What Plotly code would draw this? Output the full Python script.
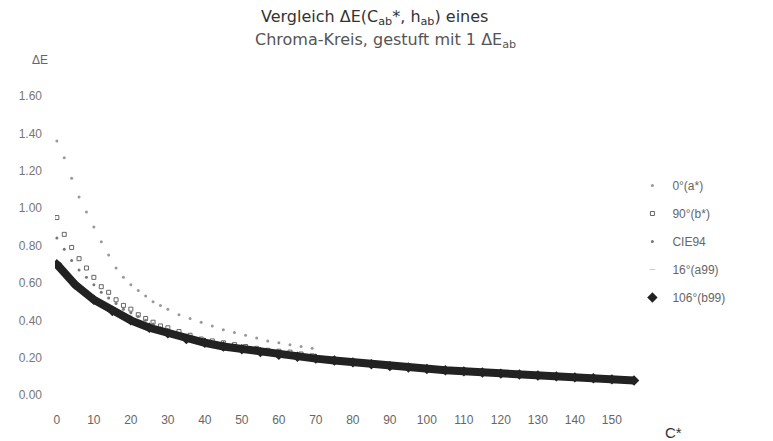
import plotly.graph_objects as go

# Chroma values (C*) and Delta E values
c_black = [0, 5, 10, 15, 20, 25, 30, 35, 40, 45, 50, 55, 60, 65, 70, 75, 80, 85,
           90, 95, 100, 105, 110, 115, 120, 125, 130, 135, 140, 145, 150, 156]
de_b99 = [0.70, 0.59, 0.51, 0.45, 0.40, 0.36, 0.33, 0.30, 0.28, 0.26, 0.245, 0.23,
          0.215, 0.205, 0.195, 0.185, 0.175, 0.165, 0.155, 0.148, 0.14, 0.133,
          0.127, 0.121, 0.115, 0.11, 0.105, 0.10, 0.095, 0.09, 0.084, 0.078]
de_a99 = [0.70, 0.59, 0.51, 0.45, 0.40, 0.36, 0.33, 0.30, 0.28, 0.26, 0.245, 0.23,
          0.215, 0.205, 0.195, 0.185, 0.175, 0.165, 0.155, 0.148, 0.14, 0.133,
          0.127, 0.121, 0.115, 0.11, 0.105, 0.10, 0.095, 0.09, 0.084, 0.078]

c_dots = [0, 2, 4, 6, 8, 10, 12, 14, 16, 18, 20, 22, 24, 26, 28, 30, 33, 36, 39,
          42, 45, 48, 51, 54, 57, 60, 63, 66, 69]
de_a = [1.36, 1.27, 1.16, 1.06, 0.98, 0.90, 0.82, 0.75, 0.68, 0.63, 0.59, 0.56,
        0.53, 0.50, 0.48, 0.46, 0.43, 0.41, 0.39, 0.37, 0.35, 0.335, 0.32, 0.305,
        0.29, 0.28, 0.27, 0.26, 0.25]
de_b = [0.95, 0.86, 0.79, 0.73, 0.68, 0.63, 0.58, 0.55, 0.51, 0.48, 0.46, 0.43,
        0.41, 0.39, 0.37, 0.36, 0.34, 0.32, 0.30, 0.29, 0.28, 0.27, 0.26, 0.25,
        0.24, 0.235, 0.23, 0.22, 0.21]
de_94 = [0.84, 0.78, 0.72, 0.67, 0.63, 0.59, 0.55, 0.52, 0.49, 0.46, 0.44, 0.42,
         0.40, 0.38, 0.36, 0.35, 0.33, 0.31, 0.295, 0.28, 0.27, 0.26, 0.25, 0.24,
         0.23, 0.225, 0.22, 0.21, 0.205]

x_ticks = list(range(0, 151, 10))
y_ticks = [0.0, 0.2, 0.4, 0.6, 0.8, 1.0, 1.2, 1.4, 1.6]

fig = go.Figure()

fig.add_trace(go.Scatter(x=c_dots, y=de_a, mode="markers", name="0°(a*)", legendgroup="g1",
                         marker=dict(size=3, color="#999999")))
fig.add_trace(go.Scatter(x=c_dots, y=de_b, mode="markers", name="90°(b*)", legendgroup="g2",
                         marker=dict(size=4, color="#666666", symbol="square-open")))
fig.add_trace(go.Scatter(x=c_dots, y=de_94, mode="markers", name="CIE94", legendgroup="g3",
                         marker=dict(size=3, color="#777777")))
fig.add_trace(go.Scatter(x=c_black, y=de_a99, mode="markers", name="16°(a99)", legendgroup="g4",
                         marker=dict(size=4, color="#cccccc", symbol="line-ew-open")))
fig.add_trace(go.Scatter(x=c_black, y=de_b99, mode="lines", showlegend=False, legendgroup="g5",
                         line=dict(color="#222222", width=8), hoverinfo="skip"))
fig.add_trace(go.Scatter(x=c_black, y=de_b99, mode="markers", name="106°(b99)", legendgroup="g5",
                         marker=dict(size=8, color="#222222", symbol="diamond")))

fig.update_layout(
    width=773, height=441,
    margin=dict(l=47, r=141, t=72, b=44),
    paper_bgcolor="white", plot_bgcolor="white",
    font=dict(family="Liberation Sans, Arial, sans-serif", color="#666666", size=12),
    xaxis=dict(range=[-0.5, 157.6], tickvals=x_ticks, showgrid=False, zeroline=False,
               showline=False, ticks="", automargin=False, ticklabelstandoff=6,
               tickfont=dict(size=12, color="#666666")),
    yaxis=dict(range=[-0.053, 1.686], tickvals=y_ticks, tickformat=".2f",
               showgrid=False, zeroline=False, showline=False, ticks="",
               automargin=False, ticklabelstandoff=12,
               tickfont=dict(size=12, color="#777777")),
    legend=dict(x=0.987, xanchor="left", y=0.72, yanchor="top",
                font=dict(size=12, color="#666666"), bgcolor="rgba(0,0,0,0)",
                tracegroupgap=9, itemwidth=30),
    annotations=[
        dict(text="Vergleich ΔE(C<sub>ab</sub>*, h<sub>ab</sub>) eines",
             xref="paper", yref="paper", x=0.546, y=1.191,
             xanchor="center", yanchor="middle", showarrow=False,
             font=dict(family="DejaVu Sans, sans-serif", size=16, color="#333333")),
        dict(text="Chroma-Kreis, gestuft mit 1 ΔE<sub>ab</sub>",
             xref="paper", yref="paper", x=0.565, y=1.12,
             xanchor="center", yanchor="middle", showarrow=False,
             font=dict(family="DejaVu Sans, sans-serif", size=16, color="#555555")),
        dict(text="ΔE", xref="paper", yref="paper", x=-0.026, y=1.062,
             xanchor="center", yanchor="middle", showarrow=False,
             font=dict(size=12, color="#666666")),
        dict(text="C*", xref="paper", yref="paper", x=1.057, y=-0.085,
             xanchor="center", yanchor="middle", showarrow=False,
             font=dict(size=15, color="#333333")),
    ],
)

fig.write_html("out.html")
